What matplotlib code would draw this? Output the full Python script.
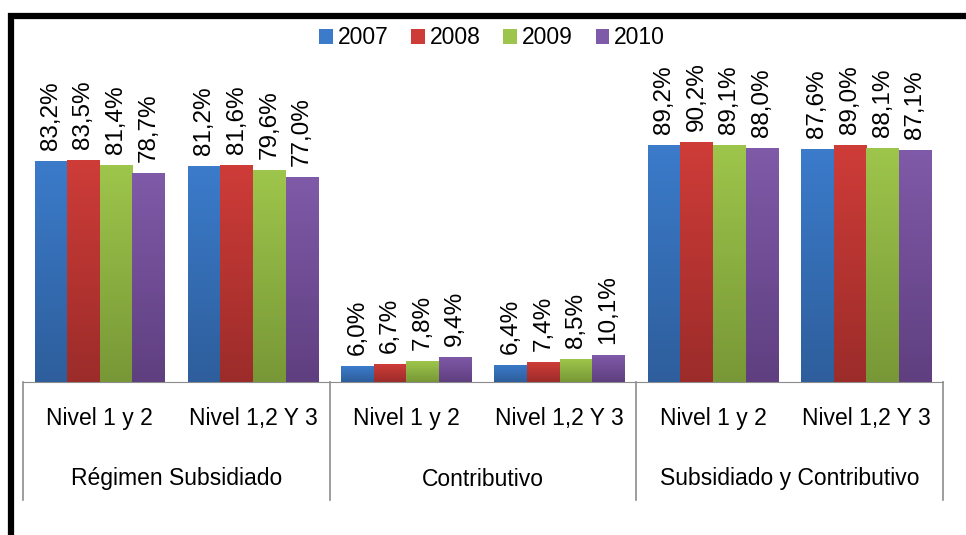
import numpy as np
import matplotlib
matplotlib.use("Agg")
from matplotlib import pyplot as plt
from matplotlib.colors import LinearSegmentedColormap
from matplotlib.patches import Rectangle
import matplotlib.transforms as mtrans

plt.rcParams['font.family'] = ['Liberation Sans', 'DejaVu Sans']

years = ["2007", "2008", "2009", "2010"]
niveles = ["Nivel 1 y 2", "Nivel 1,2 Y 3"] * 3
regimenes = ["Régimen Subsidiado", "Contributivo", "Subsidiado y Contributivo"]

v2007 = [83.2, 81.2, 6.0, 6.4, 89.2, 87.6]
v2008 = [83.5, 81.6, 6.7, 7.4, 90.2, 89.0]
v2009 = [81.4, 79.6, 7.8, 8.5, 89.1, 88.1]
v2010 = [78.7, 77.0, 9.4, 10.1, 88.0, 87.1]
series = [v2007, v2008, v2009, v2010]

# (top, bottom) colours of the gradient fill
colores = [("#3B7BCA", "#2E5E9C"), ("#CE3C38", "#9C2C2A"),
           ("#9EC54B", "#789837"), ("#7F5AA8", "#603F80")]

fig = plt.figure(figsize=(9.66, 5.35), dpi=100)
ax = fig.add_axes([23 / 966, 1 - 382 / 535, 920 / 966, 266 / 535])

x = np.arange(len(niveles))
w = 0.2125
for i, (vals, (c_top, c_bot)) in enumerate(zip(series, colores)):
    bars = ax.bar(x + (i - 1.5) * w, vals, w, color=c_top, label=years[i], zorder=2)
    cmap = LinearSegmentedColormap.from_list("g%d" % i, [c_bot, c_top])
    grad = np.linspace(0, 1, 64).reshape(-1, 1)
    for b in bars:
        bx, bw, bh = b.get_x(), b.get_width(), b.get_height()
        im = ax.imshow(grad, cmap=cmap, origin="lower", aspect="auto",
                       extent=[bx, bx + bw, 0, bh], zorder=3)
        im.set_clip_path(b)
    for xi, v in zip(x + (i - 1.5) * w, vals):
        ax.annotate(("%.1f%%" % v).replace(".", ","), (xi, v), xytext=(0, 8),
                    textcoords="offset points", rotation=90, ha="center",
                    va="bottom", fontsize=17.5)

ax.set_xlim(-0.5, len(niveles) - 0.5)
ax.set_ylim(0, 100)
ax.set_xticks([])
ax.set_yticks([])
for s in ["top", "left", "right"]:
    ax.spines[s].set_visible(False)
ax.spines["bottom"].set_color("#8C8C8C")

# category dividers and labels below the axis
tr = mtrans.blended_transform_factory(ax.transData, ax.transAxes)
for b in [-0.5, 1.5, 3.5, 5.5]:
    ax.plot([b, b], [0, -118 / 266], color="#8C8C8C", lw=1.2, transform=tr, clip_on=False)
for xi, t in zip(x, niveles):
    ax.text(xi, -37 / 266, t, transform=tr, ha="center", va="center", fontsize=16.5)
for k, t in enumerate(regimenes):
    ax.text(2 * k + 0.5, -97 / 266, t, transform=tr, ha="center", va="center", fontsize=16.5)

leg = fig.legend(loc="center", bbox_to_anchor=(492 / 966, 1 - 38 / 535), ncol=4,
                 frameon=False, fontsize=16.5, handlelength=0.6, handleheight=0.6,
                 handletextpad=0.2, columnspacing=1.0, borderaxespad=0)

# black frame (top and left edge)
fig.add_artist(Rectangle((11 / 966, -0.1), 1.2, 1 - 16 / 535 + 0.1, transform=fig.transFigure,
                         fill=False, edgecolor="black", lw=4.5))

fig.savefig("out.png", dpi=100)
